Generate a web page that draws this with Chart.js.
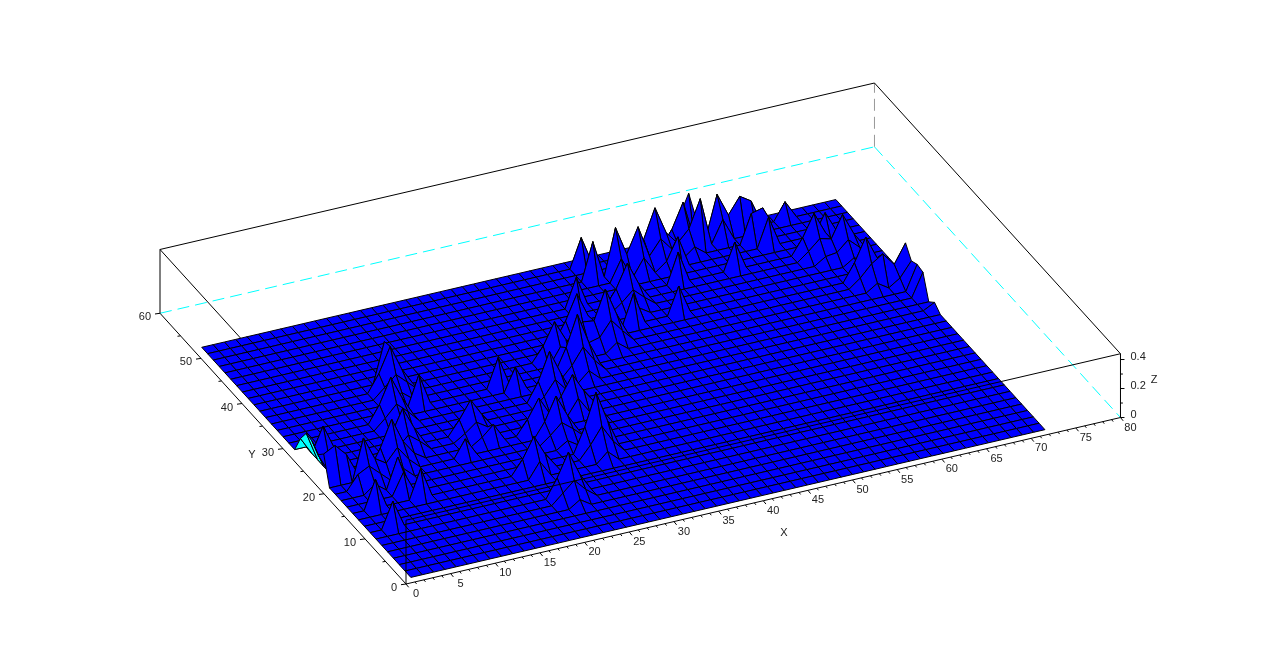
<!DOCTYPE html>
<html>
<head>
<meta charset="utf-8">
<title>Surface</title>
<script src="https://cdn.jsdelivr.net/npm/chart.js@4"></script>
<style>
html, body { margin: 0; padding: 0; background: #fff; }
canvas { display: block; }
</style>
</head>
<body>
<canvas id="surface" width="1280" height="668"></canvas>
<script>
// Grid of the surface, in axis units
const xGrid = [1,2.27,3.54,4.8,6.07,7.34,8.61,9.88,11.14,12.41,13.68,14.95,16.21,17.48,18.75,20.02,21.29,22.55,23.82,25.09,26.36,27.63,28.89,30.16,31.43,32.7,33.96,35.23,36.5,37.77,39.04,40.3,41.57,42.84,44.11,45.38,46.64,47.91,49.18,50.45,51.71,52.98,54.25,55.52,56.79,58.05,59.32,60.59,61.86,63.13,64.39,65.66,66.93,68.2,69.46,70.73,72];
const yGrid = [1,2.42,3.83,5.25,6.67,8.08,9.5,10.92,12.33,13.75,15.17,16.58,18,19.42,20.83,22.25,23.67,25.08,26.5,27.92,29.33,30.75,32.17,33.58,35,36.42,37.83,39.25,40.67,42.08,43.5,44.92,46.33,47.75,49.17,50.58,52];

// Spikes: grid column, grid row, z
const peakCol = [0,0,0,0,0,11,11,9,12,6,8,3,2,1,2,5,2,5,6,2,14,19,20,22,19,22,17,16,20,23,25,26,28,30,30,34,33,37,39,40,33,33,35,37,39,42,43,43,45,47,48,48,51,51,53,53,53,54,56,56,56,56,48,44,47,12,15];
const peakRow = [15,16,17,18,19,26,25,21,22,15,17,14,15,15,19,12,10,11,10,7,17,22,21,19,15,11,6,10,14,17,24,22,26,30,25,29,26,26,30,32,35,33,33,33,34,35,36,34,35,35,35,33,35,30,29,32,25,24,24,22,21,19,32,30,33,14,15];
const peakZ   = [0.19,0.14,0.19,0.2,0.12,0.28,0.29,0.29,0.21,0.32,0.27,0.29,0.15,0.23,0.17,0.21,0.2,0.15,0.2,0.18,0.22,0.2,0.16,0.32,0.23,0.39,0.29,0.24,0.27,0.23,0.25,0.37,0.3,0.2,0.34,0.27,0.21,0.19,0.21,0.21,0.2,0.26,0.32,0.29,0.34,0.28,0.28,0.33,0.28,0.23,0.18,0.22,0.12,0.26,0.26,0.14,0.28,0.19,0.23,0.17,0.16,0.04,0.2,0.19,0.2,0.12,0.12];

// Lower cells on the flanks of the spikes
const flankCol = [10,12,11,8,10,9,5,7,6,7,9,8,2,4,3,13,15,14,21,23,22,21,23,22,16,18,17,15,17,16,19,21,20,25,27,26,27,29,28,31,29,30,33,35,34,36,35,38,40,39,41,42,42,45,46,52,54,53,52,54,53,50,52,51,55,56,18,20,22,24,23,24,26,25,37];
const flankRow = [25,25,24,21,21,20,15,15,14,17,17,16,13,14,13,17,17,16,19,19,18,11,11,10,6,6,5,10,10,9,14,14,13,22,22,21,26,26,25,25,25,24,29,29,28,33,32,34,34,33,35,36,34,34,35,25,25,24,29,29,28,30,30,29,24,23,15,15,17,17,16,24,24,23,32];
const flankZ   = [0.12,0.12,0.14,0.12,0.13,0.15,0.14,0.15,0.17,0.11,0.12,0.13,0.1,0.13,0.14,0.1,0.1,0.11,0.13,0.15,0.17,0.17,0.18,0.2,0.13,0.12,0.14,0.1,0.1,0.11,0.11,0.12,0.13,0.16,0.16,0.19,0.13,0.13,0.15,0.15,0.14,0.17,0.11,0.11,0.13,0.12,0.15,0.14,0.15,0.17,0.11,0.1,0.14,0.15,0.12,0.12,0.12,0.14,0.11,0.11,0.13,0.11,0.11,0.13,0.1,0.15,0.1,0.1,0.1,0.1,0.11,0.1,0.11,0.12,0.12];

// Feet of the larger spikes
const footCol = [10,12,11,8,10,9,5,7,6,4,3,7,9,8,13,15,14,21,23,22,21,23,22,16,18,17,19,21,20,25,27,26,27,29,28,29,31,30,33,35,34,38,40,39,41,42,52,53,52,54,53,50,51,55];
const footRow = [24,24,23,20,20,19,14,14,13,13,12,16,16,15,16,16,15,18,18,17,10,10,9,5,5,4,13,13,12,21,21,20,25,25,24,24,24,23,28,28,27,33,33,32,34,33,24,23,28,28,27,29,28,23];
const footZ   = [0.07,0.07,0.06,0.07,0.08,0.06,0.08,0.07,0.07,0.07,0.06,0.06,0.07,0.05,0.05,0.06,0.05,0.07,0.08,0.06,0.09,0.08,0.07,0.07,0.06,0.05,0.06,0.07,0.05,0.08,0.08,0.07,0.07,0.06,0.05,0.07,0.08,0.06,0.06,0.06,0.05,0.07,0.08,0.06,0.06,0.06,0.06,0.05,0.06,0.06,0.05,0.06,0.05,0.05];

// Axes
const xTicks = [0,5,10,15,20,25,30,35,40,45,50,55,60,65,70,75,80];
const yTicks = [0,10,20,30,40,50,60];
const zTicks = [0,0.2,0.4];
const xMax = 80, yMax = 60, zMax = 0.44;

// View: where axis units land on the page
function project(x, y, z) {
    return {
        x: 406 + x * 8.931 - y * 4.1,
        y: 584 - x * 2.081 - y * 4.512 - z * 145
    };
}

const heights = new Map();
footZ.forEach((z, i) => heights.set(footCol[i] + '/' + footRow[i], z));
flankZ.forEach((z, i) => heights.set(flankCol[i] + '/' + flankRow[i], z));
peakZ.forEach((z, i) => heights.set(peakCol[i] + '/' + peakRow[i], z));

function heightAt(col, row) {
    return heights.get(col + '/' + row) || 0;
}

function lineSet(points, color, dash) {
    return {
        data: points,
        showLine: true,
        fill: false,
        borderColor: color,
        borderWidth: 1,
        borderDash: dash || [],
        pointRadius: 0,
        tension: 0
    };
}

function edge(a, b, color, dash) {
    return lineSet([project(a[0], a[1], a[2]), project(b[0], b[1], b[2])], color, dash);
}

// Chart.js paints the first dataset last, so nearest things go first
const datasets = [];

// Box edges in front of the surface
datasets.push(edge([0, 0, 0], [0, 0, zMax], '#000'));
datasets.push(edge([0, 0, zMax], [xMax, 0, zMax], '#000'));

// Surface quads, near to far
for (let row = 0; row < yGrid.length - 1; row++) {
    for (let col = 0; col < xGrid.length - 1; col++) {
        const corners = [[col, row], [col + 1, row], [col + 1, row + 1], [col, row + 1], [col, row]];
        const pts = corners.map(c => project(xGrid[c[0]], yGrid[c[1]], heightAt(c[0], c[1])));
        // the underside only shows along the open edge at x = 1
        const a = pts[0], b = pts[1], d = pts[3];
        const facing = (a.x - d.x) * (b.y - a.y) - (a.y - d.y) * (b.x - a.x);
        datasets.push({
            data: pts,
            showLine: true,
            fill: 'shape',
            backgroundColor: col === 0 && facing > 0 ? '#00ffff' : '#0000ff',
            borderColor: '#000',
            borderWidth: 1,
            pointRadius: 0,
            tension: 0
        });
    }
}

// Axis lines and ticks
datasets.push(edge([0, 0, 0], [xMax, 0, 0], '#000'));
datasets.push(edge([0, 0, 0], [0, yMax, 0], '#000'));
datasets.push(edge([xMax, 0, 0], [xMax, 0, zMax], '#000'));
for (let v = 0; v <= xMax; v++) {
    const p = project(v, 0, 0);
    const k = v % 5 === 0 ? 1 : 0.6;
    datasets.push(lineSet([p, { x: p.x + 2.7 * k, y: p.y + 3.3 * k }], '#000'));
}
for (let v = 0; v <= yMax; v += 5) {
    const p = project(0, v, 0);
    const k = v % 10 === 0 ? 1 : 0.6;
    datasets.push(lineSet([p, { x: p.x - 5 * k, y: p.y + 0.7 * k }], '#000'));
}
for (let v = 0; v <= 4; v++) {
    const p = project(xMax, 0, v / 10);
    const k = v % 2 === 0 ? 1 : 0.6;
    datasets.push(lineSet([p, { x: p.x + 4 * k, y: p.y }], '#000'));
}

// Box edges behind the surface
datasets.push(edge([0, yMax, zMax], [xMax, yMax, zMax], '#000'));
datasets.push(edge([xMax, yMax, zMax], [xMax, 0, zMax], '#000'));
datasets.push(edge([0, yMax, 0], [0, yMax, zMax], '#000'));
datasets.push(edge([0, yMax, zMax], [0, 0, zMax], '#000'));
datasets.push(edge([0, yMax, 0], [xMax, yMax, 0], '#00ffff', [12, 6]));
datasets.push(edge([xMax, yMax, 0], [xMax, 0, 0], '#00ffff', [12, 6]));
datasets.push(edge([xMax, yMax, 0], [xMax, yMax, zMax], '#999', [12, 6]));

const axisText = {
    id: 'axisText',
    afterDraw(chart) {
        const ctx = chart.ctx;
        const sx = chart.scales.x, sy = chart.scales.y;
        const put = (text, px, py, align) => {
            ctx.textAlign = align;
            ctx.fillText(text, sx.getPixelForValue(px), sy.getPixelForValue(py));
        };
        ctx.save();
        ctx.font = '11px "Liberation Sans"';
        ctx.fillStyle = '#222';
        ctx.textBaseline = 'middle';
        xTicks.forEach(v => {
            const p = project(v, 0, 0);
            put(String(v), p.x + 10, p.y + 10, 'center');
        });
        yTicks.forEach(v => {
            const p = project(0, v, 0);
            put(String(v), p.x - 9, p.y + 4, 'right');
        });
        zTicks.forEach(v => {
            const p = project(xMax, 0, v);
            put(String(v), p.x + 10, p.y - 3, 'left');
        });
        put('X', 784, 533, 'center');
        put('Y', 252, 455, 'center');
        put('Z', 1154, 380, 'center');
        ctx.restore();
    }
};

new Chart(document.getElementById('surface'), {
    type: 'scatter',
    data: { datasets: datasets },
    options: {
        responsive: false,
        animation: false,
        devicePixelRatio: 1,
        events: [],
        layout: { padding: 0, autoPadding: false },
        plugins: { legend: { display: false }, tooltip: { enabled: false } },
        scales: {
            x: { type: 'linear', min: 0, max: 1280, display: false },
            y: { type: 'linear', min: 0, max: 668, reverse: true, display: false }
        }
    },
    plugins: [axisText]
});
</script>
</body>
</html>
